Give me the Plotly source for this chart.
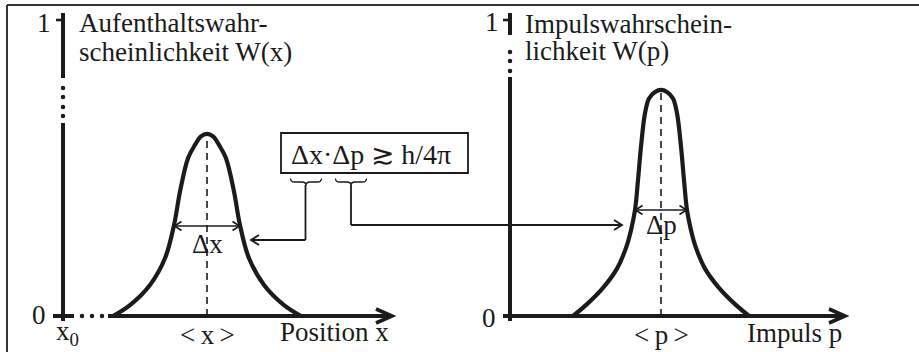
import plotly.graph_objects as go

# ---------------- data ----------------
# Aufenthaltswahrscheinlichkeit W(x): position (arb. units, x0 = 0) and W
pos_x = [5.0, 6.7, 8.7, 10.2, 11.1, 11.7, 12.5, 13.2, 13.8, 14.4,
         15.0, 15.6, 16.3, 17.1, 17.7, 18.6, 20.1, 22.1, 23.8]
pos_w = [0.0, 0.037, 0.105, 0.195, 0.307, 0.420, 0.533, 0.578, 0.607, 0.615,
         0.607, 0.578, 0.533, 0.420, 0.307, 0.195, 0.105, 0.037, 0.0]
pos_mean = 14.4
pos_delta = [11.15, 17.65]   # ends of the Δx arrow
pos_delta_w = 0.304

# Impulswahrscheinlichkeit W(p): momentum (arb. units) and W
mom_p = [6.3, 7.7, 9.3, 10.7, 11.6, 12.1, 12.5, 12.8, 13.1, 13.5, 13.9, 14.5, 15.1,
         15.7, 16.3, 16.7, 17.1, 17.4, 17.7, 18.1, 18.6, 19.5, 20.9, 22.5, 23.9]
mom_w = [0.0, 0.040, 0.095, 0.160, 0.230, 0.290, 0.358, 0.459, 0.572, 0.685, 0.735, 0.757, 0.764,
         0.757, 0.735, 0.685, 0.572, 0.459, 0.358, 0.290, 0.230, 0.160, 0.095, 0.040, 0.0]
mom_mean = 15.1
mom_delta = [12.55, 17.65]
mom_delta_w = 0.358

y_ticks = [0, 1]
x_axis_end = 32.9
p_axis_end = 33.5

# ---------------- geometry helpers ----------------
FW, FH = 919, 352
UNIT_PX = 10.0          # px per x / p unit
W_PX = 296.0            # px per W unit
X0_PX, P0_PX, BASE_PX = 63.0, 510.0, 316.0

x_range = [-X0_PX / UNIT_PX, (FW - X0_PX) / UNIT_PX]
p_range = [-P0_PX / UNIT_PX, (FW - P0_PX) / UNIT_PX]
w_range = [-(FH - BASE_PX) / W_PX, BASE_PX / W_PX]

def px(x):
    return x / FW

def py(y):
    return 1 - y / FH

INK = "#1b1b1b"
SERIF = "Liberation Serif, Times New Roman, serif"

fig = go.Figure()

fig.add_trace(go.Scatter(x=pos_x, y=pos_w, mode="lines", xaxis="x", yaxis="y",
                         line=dict(color=INK, width=4.2, shape="spline", smoothing=1.0),
                         hoverinfo="skip", showlegend=False))
fig.add_trace(go.Scatter(x=mom_p, y=mom_w, mode="lines", xaxis="x2", yaxis="y",
                         line=dict(color=INK, width=4.2, shape="spline", smoothing=1.0),
                         hoverinfo="skip", showlegend=False))

shapes = []
annotations = []

def dline(x0, y0, x1, y1, xref, width=4, dash=None, yref="y"):
    d = dict(type="line", x0=x0, y0=y0, x1=x1, y1=y1, xref=xref, yref=yref,
             line=dict(color=INK, width=width))
    if dash:
        d["line"]["dash"] = dash
    shapes.append(d)

def chevron_data(xh, yh, xref, direction, length_px, half_px, width):
    dx = -direction * length_px / UNIT_PX
    dy = half_px / W_PX
    path = f"M {xh+dx},{yh+dy} L {xh},{yh} L {xh+dx},{yh-dy}"
    shapes.append(dict(type="path", path=path, xref=xref, yref="y",
                       line=dict(color=INK, width=width)))

def chevron_paper(xh_px, yh_px, direction, length_px, half_px, width):
    dx = -direction * length_px
    path = (f"M {px(xh_px+dx)},{py(yh_px-half_px)} L {px(xh_px)},{py(yh_px)} "
            f"L {px(xh_px+dx)},{py(yh_px+half_px)}")
    shapes.append(dict(type="path", path=path, xref="paper", yref="paper",
                       line=dict(color=INK, width=width)))

def dots(xs, ys, xaxis):
    fig.add_trace(go.Scatter(x=xs, y=ys, mode="markers", xaxis=xaxis, yaxis="y",
                             marker=dict(color=INK, size=4.5), hoverinfo="skip",
                             showlegend=False))

def wpx(ypix):
    return (BASE_PX - ypix) / W_PX

def xu(xpix, origin):
    return (xpix - origin) / UNIT_PX

# ---- left panel axes ----
dline(0, wpx(13), 0, wpx(78), "x")
dots([0] * 4, [wpx(v) for v in (88, 97, 107, 116)], "x")
dline(0, wpx(123), 0, wpx(321), "x")
dline(xu(56, X0_PX), y_ticks[1], 0, y_ticks[1], "x", width=2.6)
dline(xu(53, X0_PX), y_ticks[0], xu(74, X0_PX), y_ticks[0], "x")
dots([xu(v, X0_PX) for v in (82, 92, 102)], [0] * 3, "x")
dline(xu(108, X0_PX), 0, x_axis_end - 0.15, 0, "x")
chevron_data(x_axis_end, 0, "x", 1, 16, 7, 3.6)
dline(pos_mean, 0, pos_mean, max(pos_w), "x", width=1.6, dash="7px,5px")

# ---- right panel axes ----
dline(0, wpx(13), 0, wpx(35), "x2")
dots([0] * 3, [wpx(v) for v in (52, 61, 71)], "x2")
dline(0, wpx(77), 0, wpx(321), "x2")
dline(xu(503, P0_PX), y_ticks[1], 0, y_ticks[1], "x2", width=2.6)
dline(xu(503, P0_PX), 0, p_axis_end - 0.15, 0, "x2")
chevron_data(p_axis_end, 0, "x2", 1, 16, 7, 3.6)
dline(mom_mean, 0, mom_mean, max(mom_w), "x2", width=1.6, dash="7px,5px")

# ---- Δ arrows (double headed) ----
dline(pos_delta[0], pos_delta_w, pos_delta[1], pos_delta_w, "x", width=1.6)
chevron_data(pos_delta[0], pos_delta_w, "x", -1, 7, 4.5, 1.6)
chevron_data(pos_delta[1], pos_delta_w, "x", 1, 7, 4.5, 1.6)
dline(mom_delta[0], mom_delta_w, mom_delta[1], mom_delta_w, "x2", width=1.6)
chevron_data(mom_delta[0], mom_delta_w, "x2", -1, 7, 4.5, 1.6)
chevron_data(mom_delta[1], mom_delta_w, "x2", 1, 7, 4.5, 1.6)

# ---- frame ----
shapes.append(dict(type="line", xref="paper", yref="paper", x0=px(7), y0=py(5), x1=px(7), y1=0,
                   line=dict(color="#333", width=2)))
shapes.append(dict(type="line", xref="paper", yref="paper", x0=px(7), y0=py(5), x1=1, y1=py(5),
                   line=dict(color="#333", width=2)))

# ---- formula box, braces, connectors ----
shapes.append(dict(type="rect", xref="paper", yref="paper", x0=px(281), x1=px(468),
                   y0=py(173), y1=py(133), line=dict(color=INK, width=1.8)))

def brace(cx, half=15.5, top=178.5, mid=182, tip=185.5):
    pts = (f"M {px(cx-half)},{py(top)} Q {px(cx-half)},{py(mid)} {px(cx-half+4)},{py(mid)} "
           f"L {px(cx-4)},{py(mid)} Q {px(cx)},{py(mid)} {px(cx)},{py(tip)} "
           f"Q {px(cx)},{py(mid)} {px(cx+4)},{py(mid)} "
           f"L {px(cx+half-4)},{py(mid)} Q {px(cx+half)},{py(mid)} {px(cx+half)},{py(top)}")
    shapes.append(dict(type="path", path=pts, xref="paper", yref="paper",
                       line=dict(color=INK, width=1.3)))

brace(306)
brace(351)

def pline(x0, y0, x1, y1, width=1.8):
    shapes.append(dict(type="line", xref="paper", yref="paper", x0=px(x0), y0=py(y0),
                       x1=px(x1), y1=py(y1), line=dict(color=INK, width=width)))

pline(305.5, 185, 305.5, 240)
pline(305.5, 240, 251, 240)
chevron_paper(251, 240, -1, 8, 5, 1.8)
pline(351, 185, 351, 225)
pline(351, 225, 622, 225)
chevron_paper(622, 225, 1, 8, 5, 1.8)

# ---- texts ----
def text(t, x, y, size=27, xanchor="center", yanchor="middle"):
    annotations.append(dict(text=t, x=px(x), y=py(y), xref="paper", yref="paper",
                            showarrow=False, xanchor=xanchor, yanchor=yanchor,
                            font=dict(family=SERIF, size=size, color=INK)))

TH = "\u2009"
text("Aufenthaltswahr-", 77, 23, xanchor="left")
text("scheinlichkeit W(x)", 77, 52, xanchor="left")
text("Impulswahrschein-", 523, 24, xanchor="left")
text("lichkeit W(p)", 523, 51, xanchor="left")
text(str(y_ticks[1]), 44, 23)
text(str(y_ticks[0]), 39, 315)
text(str(y_ticks[1]), 492, 22)
text(str(y_ticks[0]), 489, 318)
text("x<sub>0</sub>", 67, 333)
text(f"&lt;{TH}x{TH}&gt;", X0_PX + pos_mean * UNIT_PX, 335)
text("Position x", 391, 332, xanchor="right")
text(f"&lt;{TH}p{TH}&gt;", P0_PX + mom_mean * UNIT_PX, 335)
text("Impuls p", 844, 333, xanchor="right")
text("Δx", X0_PX + pos_mean * UNIT_PX, 244)
text("Δp", P0_PX + mom_mean * UNIT_PX, 225)
text("Δx·Δp ≳ h/4π", 371, 154, size=28)

fig.update_layout(
    width=FW, height=FH, margin=dict(l=0, r=0, t=0, b=0),
    paper_bgcolor="white", plot_bgcolor="white",
    xaxis=dict(range=x_range, domain=[0, 1], visible=False, fixedrange=True),
    xaxis2=dict(range=p_range, domain=[0, 1], overlaying="x", anchor="y",
                visible=False, fixedrange=True),
    yaxis=dict(range=w_range, domain=[0, 1], visible=False, fixedrange=True),
    shapes=shapes, annotations=annotations, showlegend=False,
)

fig.write_html("out.html", config={"displayModeBar": False},
               post_script="document.body.style.margin='0';document.body.style.padding='0';")
